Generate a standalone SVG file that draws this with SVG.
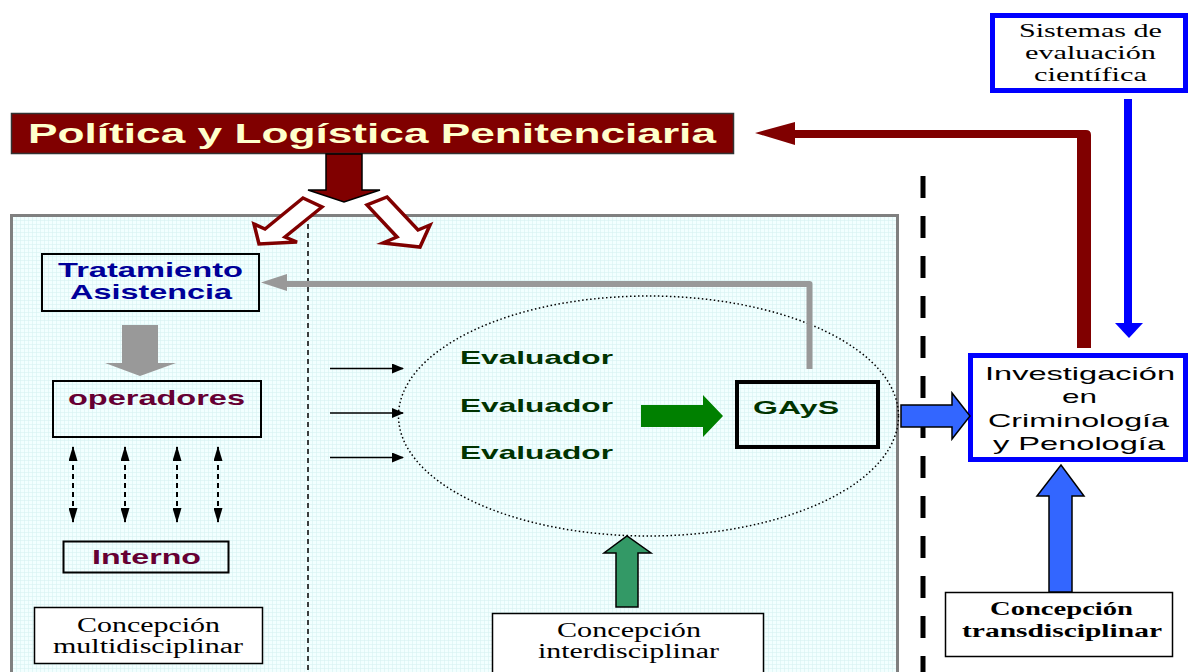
<svg xmlns="http://www.w3.org/2000/svg" width="1191" height="672" viewBox="0 0 1191 672">
<defs>
<pattern id="grid" width="4" height="4" patternUnits="userSpaceOnUse">
<rect width="4" height="4" fill="#F2FFFF"/>
<path d="M0 0.5H4M0.5 0V4" stroke="#D6F2F2" stroke-width="0.6"/>
</pattern>
<marker id="ah" viewBox="0 0 12 10" refX="11" refY="5" markerWidth="12" markerHeight="10" markerUnits="userSpaceOnUse" orient="auto">
<path d="M0 0L12 5L0 10z" fill="#000"/>
</marker>
<marker id="ahs" viewBox="0 0 15 9" refX="14" refY="4.5" markerWidth="15" markerHeight="9" markerUnits="userSpaceOnUse" orient="auto-start-reverse">
<path d="M0 0L15 4.5L0 9z" fill="#000"/>
</marker>
<style>
.b{font-family:"Liberation Sans",Arial,sans-serif;font-weight:bold}
.s{font-family:"Liberation Sans",Arial,sans-serif}
.r{font-family:"Liberation Serif","Times New Roman",serif}
.box{fill:none;stroke:#000;stroke-width:2}
.wbox{fill:#fff;stroke:#000;stroke-width:1.5}
.eval{fill:#003300;font-size:19px}
.mar{fill:#660033;font-size:21px}
.blk{stroke:#000;stroke-width:1.5}
</style>
</defs>
<rect width="1191" height="672" fill="#fff"/>

<g id="panel">
<rect x="11.5" y="215.5" width="886" height="470" fill="url(#grid)" stroke="#808080" stroke-width="3"/>
<line x1="308" y1="224" x2="308" y2="672" stroke="#000" stroke-width="1.5" stroke-dasharray="5 4"/>
<ellipse cx="648.5" cy="416" rx="250" ry="120" fill="none" stroke="#000" stroke-width="1.5" stroke-dasharray="1.5 2.5"/>
</g>
<line id="divider" x1="923" y1="176" x2="923" y2="672" stroke="#000" stroke-width="5" stroke-dasharray="22 18"/>

<g id="title">
<rect x="11.5" y="113.5" width="722" height="40" fill="#800000" stroke="#333" stroke-width="1.5"/>
<text class="b" x="28" y="143" font-size="28" fill="#FFFFCC" textLength="688" lengthAdjust="spacingAndGlyphs">Política y Logística Penitenciaria</text>
</g>

<g id="tratamiento">
<rect class="box" x="42" y="254" width="217" height="57"/>
<text class="b" x="58" y="277" font-size="21" fill="#000099" textLength="185" lengthAdjust="spacingAndGlyphs">Tratamiento</text>
<text class="b" x="70" y="299" font-size="21" fill="#000099" textLength="162" lengthAdjust="spacingAndGlyphs">Asistencia</text>
</g>

<g id="operadores">
<rect class="box" x="53" y="381" width="208" height="56"/>
<text class="b mar" x="68" y="405" textLength="177" lengthAdjust="spacingAndGlyphs">operadores</text>
</g>

<g id="interno">
<rect class="box" x="63.5" y="541.5" width="165" height="31"/>
<text class="b mar" x="92" y="564" textLength="109" lengthAdjust="spacingAndGlyphs">Interno</text>
</g>

<g id="multidisciplinar">
<rect class="wbox" x="34.5" y="607.5" width="228" height="56"/>
<text class="r" x="77" y="632" font-size="20" textLength="143" lengthAdjust="spacingAndGlyphs">Concepción</text>
<text class="r" x="53" y="653" font-size="20" textLength="190" lengthAdjust="spacingAndGlyphs">multidisciplinar</text>
</g>

<g id="evaluadores">
<text class="b eval" x="460" y="364" textLength="153" lengthAdjust="spacingAndGlyphs">Evaluador</text>
<text class="b eval" x="460" y="412" textLength="153" lengthAdjust="spacingAndGlyphs">Evaluador</text>
<text class="b eval" x="460" y="459" textLength="153" lengthAdjust="spacingAndGlyphs">Evaluador</text>
</g>

<g id="gays">
<rect x="737" y="382" width="141" height="65" fill="none" stroke="#000" stroke-width="4"/>
<text class="b eval" x="753" y="414" font-size="20" textLength="86" lengthAdjust="spacingAndGlyphs">GAyS</text>
</g>

<g id="interdisciplinar">
<rect class="wbox" x="492.5" y="613.5" width="271" height="70"/>
<text class="r" x="557" y="637" font-size="20" textLength="144" lengthAdjust="spacingAndGlyphs">Concepción</text>
<text class="r" x="538" y="658" font-size="20" textLength="181" lengthAdjust="spacingAndGlyphs">interdisciplinar</text>
</g>

<g id="sistemas">
<rect x="992.5" y="15.5" width="193" height="75" fill="#fff" stroke="#0000FF" stroke-width="5"/>
<text class="r" x="1019" y="37" font-size="19" textLength="143" lengthAdjust="spacingAndGlyphs">Sistemas de</text>
<text class="r" x="1025" y="59" font-size="19" textLength="131" lengthAdjust="spacingAndGlyphs">evaluación</text>
<text class="r" x="1034" y="81" font-size="19" textLength="113" lengthAdjust="spacingAndGlyphs">científica</text>
</g>

<g id="investigacion">
<rect x="970.5" y="355.5" width="215" height="104" fill="#fff" stroke="#0000FF" stroke-width="5"/>
<text class="s" x="985" y="380" font-size="19" textLength="190" lengthAdjust="spacingAndGlyphs">Investigación</text>
<text class="s" x="1062" y="403" font-size="19" textLength="35" lengthAdjust="spacingAndGlyphs">en</text>
<text class="s" x="988" y="427" font-size="19" textLength="181" lengthAdjust="spacingAndGlyphs">Criminología</text>
<text class="s" x="993" y="450" font-size="19" textLength="172" lengthAdjust="spacingAndGlyphs">y Penología</text>
</g>

<g id="transdisciplinar">
<rect class="wbox" x="945.5" y="592.5" width="227" height="64"/>
<text class="r" x="990" y="615" font-size="18" font-weight="bold" textLength="143" lengthAdjust="spacingAndGlyphs">Concepción</text>
<text class="r" x="962" y="637" font-size="18" font-weight="bold" textLength="200" lengthAdjust="spacingAndGlyphs">transdisciplinar</text>
</g>

<g id="connectors">
<polygon class="blk" points="326,154 362,154 362,190 380,190 344,202 308,190 326,190" fill="#800000"/>
<polygon points="303,198 322,207 285,237 297,242 259,244 254,224 265,229" fill="#fff" stroke="#800000" stroke-width="3.5" stroke-linejoin="miter"/>
<polygon points="387,197 418,230 430,225 420,247 383,243 397,237 367,205" fill="#fff" stroke="#800000" stroke-width="3.5" stroke-linejoin="miter"/>
<path d="M1077,348V138H793V130H1086Q1091,130 1091,135V348Z" fill="#800000"/>
<polygon points="755,133 795,122 795,145" fill="#800000"/>
<rect x="1124" y="99" width="8" height="226" fill="#0000FF"/>
<polygon points="1115,323 1143,323 1129,338" fill="#0000FF"/>
<polyline points="809.5,369 809.5,284 285,284" fill="none" stroke="#999" stroke-width="6" stroke-linejoin="round"/>
<polygon points="287,274 261,282.5 287,291" fill="#999"/>
<polygon points="122,325 158,325 158,363 176,363 140,376 105,363 122,363" fill="#999"/>
<g stroke="#000" stroke-width="2" stroke-dasharray="5 4" marker-start="url(#ahs)" marker-end="url(#ahs)">
<line x1="73" y1="447" x2="73" y2="522"/>
<line x1="125" y1="447" x2="125" y2="522"/>
<line x1="177" y1="447" x2="177" y2="522"/>
<line x1="218" y1="447" x2="218" y2="522"/>
</g>
<g stroke="#000" stroke-width="1.5" marker-end="url(#ah)">
<line x1="330" y1="368.5" x2="403" y2="368.5"/>
<line x1="330" y1="413" x2="403" y2="413"/>
<line x1="330" y1="457.5" x2="403" y2="457.5"/>
</g>
<polygon points="641,405 703,405 703,395 723,416 703,437 703,427 641,427" fill="#008000"/>
<polygon class="blk" points="901,405 952,405 952,393 970,416 952,439 952,427 901,427" fill="#3366FF"/>
<polygon class="blk" points="616,607 616,553 604,553 627,536 651,553 638,553 638,607" fill="#339966"/>
<polygon class="blk" points="1049,592 1049,496 1037,496 1061,465 1084,496 1072,496 1072,592" fill="#3366FF"/>
</g>
</svg>
